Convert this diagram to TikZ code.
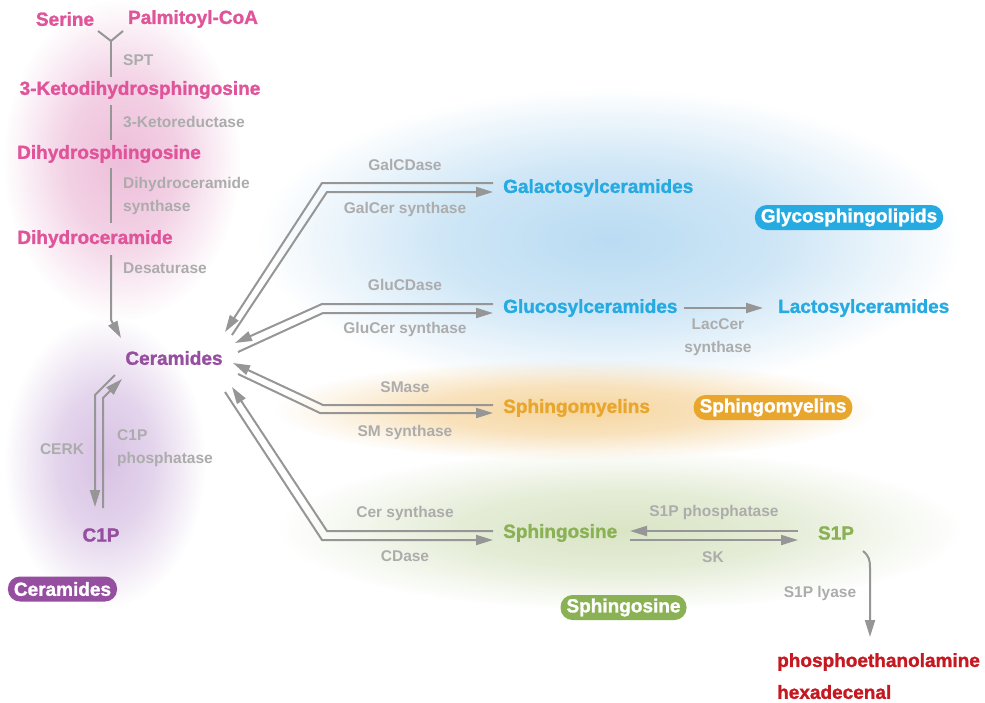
\documentclass[tikz,border=0pt]{standalone}
\usepackage{fontspec}
\setmainfont{Liberation Sans}
\newfontfamily\heavyfont{Liberation Sans}[BoldFeatures={FakeBold=1.3}]
\usetikzlibrary{arrows.meta,fadings}
\definecolor{pinkc}{RGB}{224,84,154}
\definecolor{bluec}{RGB}{38,170,226}
\definecolor{orangec}{RGB}{232,166,45}
\definecolor{greenc}{RGB}{138,178,85}
\definecolor{purplec}{RGB}{150,78,160}
\definecolor{redc}{RGB}{198,24,32}
\definecolor{enzgray}{RGB}{172,172,172}
\definecolor{arrgray}{RGB}{150,150,150}
\definecolor{pinkblob}{RGB}{238,190,218}
\definecolor{purpleblob}{RGB}{216,194,228}
\definecolor{blueblob}{RGB}{186,220,243}
\definecolor{orangeblob}{RGB}{246,214,160}
\definecolor{greenblob}{RGB}{218,229,198}
\pgfdeclareradialshading{myblobshade}{\pgfpointorigin}{color(0bp)=(pgftransparent!0); color(12bp)=(pgftransparent!30); color(25bp)=(pgftransparent!100); color(50bp)=(pgftransparent!100)}
\pgfdeclarefading{myblobfade}{\pgfuseshading{myblobshade}}
\begin{document}
\begin{tikzpicture}[x=1pt,y=-1pt,
  mol/.style={font=\fontsize{19}{21}\heavyfont\bfseries, inner sep=0pt},
  enz/.style={font=\fontsize{15.5}{23.5}\selectfont\bfseries, text=enzgray, inner sep=0pt, align=left},
  pill/.style={mol, text=white, rounded corners=12pt, minimum height=25pt, inner xsep=6pt},
  lin/.style={draw=arrgray, line width=2pt},
  arr/.style={lin, -{Triangle[length=17pt,width=10pt]}},
  blob/.style={fill=#1, path fading=myblobfade}]
\fill[white] (0,0) rectangle (985,702);
\useasboundingbox (0,0) rectangle (985,702);
% background blobs
\fill[blob=pinkblob] (122,160) ellipse [x radius=118pt, y radius=160pt];
\fill[blob=purpleblob] (105,462) ellipse [x radius=100pt, y radius=145pt];
\fill[blob=blueblob] (610,240) ellipse [x radius=350pt, y radius=150pt];
\fill[blob=orangeblob] (575,410) ellipse [x radius=300pt, y radius=50pt];
\fill[blob=greenblob] (620,530) ellipse [x radius=340pt, y radius=80pt];
% de novo pathway
\node[mol, text=pinkc] (serine) at (65,19) {Serine};
\node[mol, text=pinkc] (palm) at (193,19) {Palmitoyl-CoA};
\node[mol, text=pinkc] (keto) at (140,90) {3-Ketodihydrosphingosine};
\node[mol, text=pinkc] (dhs) at (109,154) {Dihydrosphingosine};
\node[mol, text=pinkc] (dhc) at (95,239) {Dihydroceramide};
\node[enz, anchor=west] (spt) at (123,60) {SPT};
\node[enz, anchor=west] (kr) at (123,122) {3-Ketoreductase};
\node[enz, anchor=west] (dcs) at (123,196) {Dihydroceramide\\synthase};
\node[enz, anchor=west] (desat) at (123,268) {Desaturase};
\coordinate (forkL) at (98,31);
\coordinate (forkR) at (123,31);
\coordinate (forkM) at (111,41);
\draw[lin] (forkL) -- (forkM) -- (forkR);
\draw[lin] (forkM) -- (111,77);
\draw[lin] (111,105) -- (111,140);
\draw[lin] (111,168) -- (111,223);
\draw[arr] (111,255) -- (111,320) -- (121,338);
% ceramides / C1P
\node[mol, text=purplec] (cer) at (174,358) {Ceramides};
\node[enz] (cerk) at (62,449) {CERK};
\node[enz, anchor=west] (c1pp) at (117,448) {C1P\\phosphatase};
\node[mol, text=purplec] (c1p) at (101,535) {C1P};
\node[pill, fill=purplec] (cerpill) at (62.5,589) {Ceramides};
\draw[arr] (115,375) -- (95,395) -- (95,507);
\draw[arr] (103,508) -- (103,398) -- (122,379);
% glycosphingolipids
\node[mol, text=bluec, anchor=west] (gal) at (503,188) {Galactosylceramides};
\node[mol, text=bluec, anchor=west] (glu) at (503,308) {Glucosylceramides};
\node[mol, text=bluec, anchor=west] (lac) at (778,308) {Lactosylceramides};
\node[enz, align=center] (lacs) at (718,337) {LacCer\\synthase};
\node[pill, fill=bluec] (glypill) at (849,217.5) {Glycosphingolipids};
\node[enz] (galcd) at (405,165) {GalCDase};
\node[enz] (galcs) at (405,209) {GalCer synthase};
\node[enz] (glucd) at (405,285) {GluCDase};
\node[enz] (glucs) at (405,329) {GluCer synthase};
\draw[arr] (493,183) -- (322,183) -- (225,332);
\draw[arr] (232,335) -- (327,192) -- (493,192);
\draw[arr] (493,304) -- (322,304) -- (235,343);
\draw[arr] (238,352) -- (323,313) -- (493,313);
\draw[arr] (684,308) -- (763,308);
% sphingomyelins
\node[mol, text=orangec, anchor=west] (sm) at (503,408) {Sphingomyelins};
\node[pill, fill=orangec] (smpill) at (773,407.5) {Sphingomyelins};
\node[enz] (smase) at (405,387) {SMase};
\node[enz] (sms) at (405,432) {SM synthase};
\draw[arr] (493,405) -- (323,405) -- (233,363);
\draw[arr] (238,374) -- (320,413) -- (493,413);
% sphingosine
\node[mol, text=greenc, anchor=west] (sph) at (503,533) {Sphingosine};
\node[mol, text=greenc] (s1p) at (836,533) {S1P};
\node[pill, fill=greenc] (sphpill) at (623.5,607.5) {Sphingosine};
\node[enz] (cers) at (405,513) {Cer synthase};
\node[enz] (cdase) at (405,556) {CDase};
\node[enz] (s1pp) at (714,512) {S1P phosphatase};
\node[enz] (sk) at (713,557) {SK};
\node[enz] (lyase) at (820,593) {S1P lyase};
\draw[arr] (493,531) -- (327,531) -- (232,387);
\draw[arr] (225,392) -- (322,540) -- (493,540);
\draw[arr] (798,531) -- (630,531);
\draw[arr] (630,540) -- (798,540);
\draw[arr] (863,551) .. controls (869,556) and (870,560) .. (870,568) -- (870,637);
\node[mol, text=redc, anchor=west] (pe) at (777,662) {phosphoethanolamine};
\node[mol, text=redc, anchor=west] (hex) at (777,692) {hexadecenal};
\end{tikzpicture}
\end{document}
